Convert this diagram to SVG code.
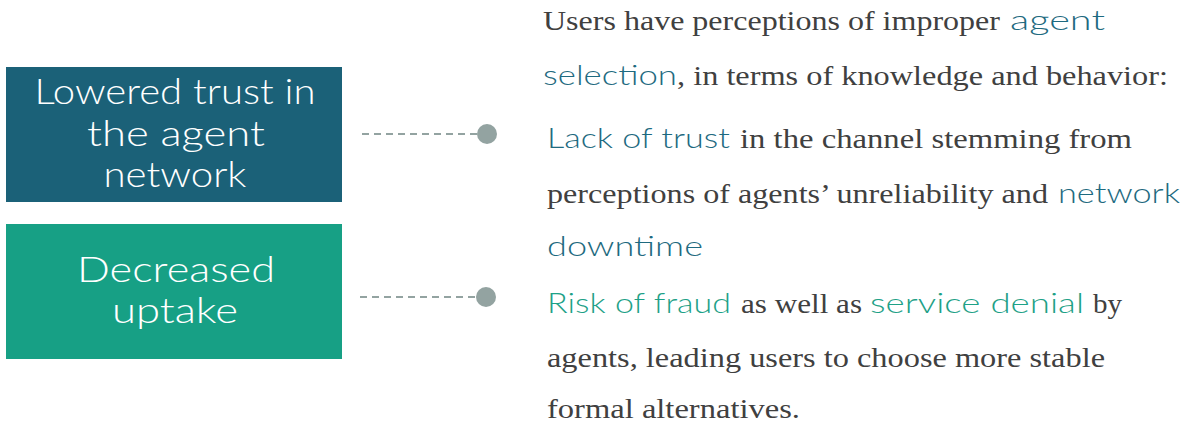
<svg xmlns="http://www.w3.org/2000/svg" width="1195" height="423" viewBox="0 0 1195 423">
<style>
.box-t{font-family:Lato,"Open Sans",sans-serif;font-weight:300;font-size:35px;fill:#ffffff;text-anchor:middle}
.serif{font-family:"Liberation Serif",serif;font-size:28px;fill:#404040}
.hl{font-family:Lato,"Open Sans",sans-serif;font-weight:300;font-size:28px}
.blue{fill:#1e6a80}
.green{fill:#1ea187}
.dash{stroke:#93a3a1;stroke-width:2;stroke-dasharray:7,5;fill:none}
.dot{fill:#93a3a1}
</style>
<rect width="1195" height="423" fill="#ffffff"/>
<g id="node-trust">
<rect x="6" y="67" width="336" height="135" fill="#1b6178"/>
<text class="box-t" x="175" y="104" textLength="281" lengthAdjust="spacingAndGlyphs">Lowered trust in</text>
<text class="box-t" x="176" y="146" textLength="178" lengthAdjust="spacingAndGlyphs">the agent</text>
<text class="box-t" x="175" y="187" textLength="143" lengthAdjust="spacingAndGlyphs">network</text>
</g>
<g id="node-uptake">
<rect x="6" y="224" width="336" height="135" fill="#17a085"/>
<text class="box-t" x="176" y="282" textLength="198" lengthAdjust="spacingAndGlyphs">Decreased</text>
<text class="box-t" x="175" y="323" textLength="126" lengthAdjust="spacingAndGlyphs">uptake</text>
</g>
<g id="connectors">
<line class="dash" x1="362" y1="134" x2="480" y2="134"/>
<circle class="dot" cx="487" cy="134" r="10"/>
<line class="dash" x1="360" y1="297" x2="478" y2="297"/>
<circle class="dot" cx="486" cy="297" r="10"/>
</g>
<g id="text-block">
<text class="serif" x="543" y="30" textLength="457" lengthAdjust="spacingAndGlyphs">Users have perceptions of improper</text>
<text class="hl blue" x="1010" y="30" textLength="95" lengthAdjust="spacingAndGlyphs">agent</text>
<text class="hl blue" x="543" y="85" textLength="134" lengthAdjust="spacingAndGlyphs">selection</text>
<text class="serif" x="677" y="85" textLength="491" lengthAdjust="spacingAndGlyphs">, in terms of knowledge and behavior:</text>
<text class="hl blue" x="547" y="148" textLength="183" lengthAdjust="spacingAndGlyphs">Lack of trust</text>
<text class="serif" x="740" y="148" textLength="392" lengthAdjust="spacingAndGlyphs">in the channel stemming from</text>
<text class="serif" x="547" y="203" textLength="501" lengthAdjust="spacingAndGlyphs">perceptions of agents’ unreliability and</text>
<text class="hl blue" x="1058" y="203" textLength="122" lengthAdjust="spacingAndGlyphs">network</text>
<text class="hl blue" x="547" y="256" textLength="156" lengthAdjust="spacingAndGlyphs">downtime</text>
<text class="hl green" x="547" y="313" textLength="184" lengthAdjust="spacingAndGlyphs">Risk of fraud</text>
<text class="serif" x="741" y="313" textLength="121" lengthAdjust="spacingAndGlyphs">as well as</text>
<text class="hl green" x="870" y="313" textLength="214" lengthAdjust="spacingAndGlyphs">service denial</text>
<text class="serif" x="1093" y="313" textLength="29" lengthAdjust="spacingAndGlyphs">by</text>
<text class="serif" x="547" y="367" textLength="558" lengthAdjust="spacingAndGlyphs">agents, leading users to choose more stable</text>
<text class="serif" x="547" y="418" textLength="253" lengthAdjust="spacingAndGlyphs">formal alternatives.</text>
</g>
</svg>
